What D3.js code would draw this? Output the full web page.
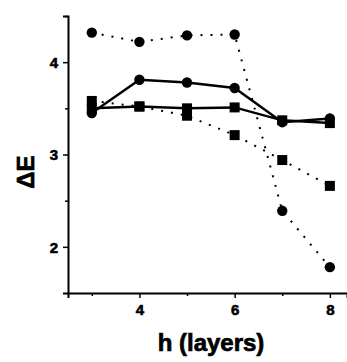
<!DOCTYPE html>
<html>
<head>
<meta charset="utf-8">
<script src="https://cdn.jsdelivr.net/npm/d3@7"></script>
<style>
  html, body { margin: 0; padding: 0; background: #fff; }
  svg { display: block; font-family: "Liberation Sans", Arial, sans-serif; font-weight: bold; }
</style>
</head>
<body>
<div id="chart"></div>
<script>
// values
const hLayers = [3, 4, 5, 6, 7, 8];
const solidCircle = [3.45, 3.81, 3.78, 3.72, 3.35, 3.39];
const solidSquare = [3.50, 3.52, 3.50, 3.51, 3.37, 3.34];
const dottedCircle = [4.32, 4.22, 4.29, 4.30, 2.39, 1.78];
const dottedSquare = [3.58, 3.52, 3.42, 3.21, 2.94, 2.66];

const xMajor = [4, 6, 8];
const xMinor = [3, 5, 7];
const yMajor = [2, 3, 4];
const yMinor = [2.5, 3.5, 4.5];

const width = 347;
const height = 362;

const svg = d3.select('#chart').append('svg')
  .attr('width', width)
  .attr('height', height);

const x = d3.scaleLinear().domain([2.5, 8.36]).range([68, 347]);
const y = d3.scaleLinear().domain([1.5, 4.5]).range([293, 16]);

// axes
const axisX = svg.append('g').attr('transform', `translate(0,${y(1.5)})`);
axisX.call(d3.axisBottom(x).tickValues(xMajor).tickSize(5).tickPadding(6).tickFormat(d3.format('d')));
axisX.append('g').call(d3.axisBottom(x).tickValues(xMinor).tickSize(3).tickFormat(''))
  .select('.domain').remove();

const axisY = svg.append('g').attr('transform', `translate(${x(2.5)},0)`);
axisY.call(d3.axisLeft(y).tickValues(yMajor).tickSize(5).tickPadding(5).tickFormat(d3.format('d')));
axisY.append('g').call(d3.axisLeft(y).tickValues(yMinor).tickSize(3).tickFormat(''))
  .select('.domain').remove();

svg.selectAll('.domain')
  .attr('stroke', '#000')
  .attr('stroke-width', 2);
svg.selectAll('.tick line')
  .attr('stroke', '#000')
  .attr('stroke-width', 1.5);
svg.selectAll('.tick text')
  .attr('fill', '#000')
  .attr('stroke', '#000')
  .attr('stroke-width', 0.6)
  .style('font-size', '15px')
  .style('font-weight', 'bold')
  .style('font-family', '"Liberation Sans", Arial, sans-serif');
axisY.selectAll('.tick text').attr('dy', '0.36em');

// axis titles
svg.append('text')
  .attr('x', 211)
  .attr('y', 351)
  .attr('text-anchor', 'middle')
  .attr('stroke', '#000')
  .attr('stroke-width', 0.7)
  .style('font-size', '24px')
  .text('h (layers)');

svg.append('text')
  .attr('transform', 'translate(34,172) rotate(-90)')
  .attr('text-anchor', 'middle')
  .attr('stroke', '#000')
  .attr('stroke-width', 0.7)
  .style('font-size', '24px')
  .text('ΔE');

// series
const series = [
  {values: dottedCircle, shape: 'circle', dotted: true},
  {values: dottedSquare, shape: 'square', dotted: true},
  {values: solidSquare, shape: 'square', dotted: false},
  {values: solidCircle, shape: 'circle', dotted: false}
];

const line = d3.line()
  .x((d, i) => x(hLayers[i]))
  .y(d => y(d));

svg.selectAll('.series-line')
  .data(series)
  .enter()
  .append('path')
  .attr('class', 'series-line')
  .attr('d', d => line(d.values))
  .attr('fill', 'none')
  .attr('stroke', '#000')
  .attr('stroke-width', d => d.dotted ? 2 : 2.5)
  .attr('stroke-dasharray', d => d.dotted ? '2,8' : null);

series.forEach(s => {
  const pts = s.values.map((v, i) => ({x: hLayers[i], v: v}));
  if (s.shape === 'circle') {
    svg.append('g').selectAll('circle')
      .data(pts)
      .enter()
      .append('circle')
      .attr('cx', d => x(d.x))
      .attr('cy', d => y(d.v))
      .attr('r', 5.2)
      .attr('fill', '#000');
  } else {
    svg.append('g').selectAll('rect')
      .data(pts)
      .enter()
      .append('rect')
      .attr('x', d => x(d.x) - 5)
      .attr('y', d => y(d.v) - 5)
      .attr('width', 10)
      .attr('height', 10)
      .attr('fill', '#000');
  }
});
</script>
</body>
</html>
